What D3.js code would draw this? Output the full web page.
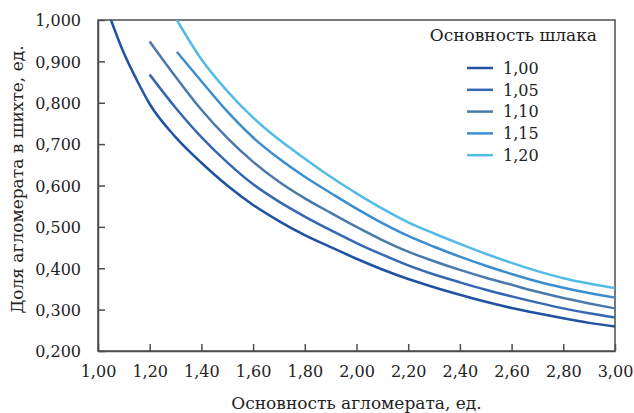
<!DOCTYPE html>
<html>
<head>
<meta charset="utf-8">
<script src="https://cdn.jsdelivr.net/npm/d3@7"></script>
<style>
  body { margin: 0; background: #fff; }
  text { font-family: "DejaVu Serif", serif; fill: #222; }
</style>
</head>
<body>
<div id="chart"></div>
<script>
var width = 634;
var height = 413;
var margin = { top: 20, right: 19, bottom: 62, left: 98 };

// slag basicity series
var seriesNames = ['1,00', '1,05', '1,10', '1,15', '1,20'];
var seriesColors = ['#1f52a1', '#3568b3', '#4a7aab', '#3b8dcf', '#52bbe8'];

// sinter basicity (x) and sinter share in the charge (y)
var x100 = [1.05, 1.10, 1.15, 1.20, 1.30, 1.40, 1.50, 1.60, 1.70, 1.80, 1.90, 2.00, 2.10, 2.20, 2.30, 2.40, 2.50, 2.60, 2.70, 2.80, 2.90, 3.00];
var y100 = [1.000, 0.920, 0.855, 0.797, 0.717, 0.655, 0.600, 0.553, 0.514, 0.480, 0.451, 0.423, 0.397, 0.374, 0.354, 0.336, 0.319, 0.304, 0.291, 0.279, 0.268, 0.259];

var x105 = [1.20, 1.30, 1.40, 1.50, 1.60, 1.70, 1.80, 1.90, 2.00, 2.10, 2.20, 2.30, 2.40, 2.50, 2.60, 2.70, 2.80, 2.90, 3.00];
var y105 = [0.868, 0.788, 0.717, 0.656, 0.603, 0.561, 0.525, 0.492, 0.461, 0.433, 0.407, 0.385, 0.366, 0.348, 0.332, 0.317, 0.303, 0.291, 0.281];

var x110 = [1.20, 1.30, 1.40, 1.50, 1.60, 1.70, 1.80, 1.90, 2.00, 2.10, 2.20, 2.30, 2.40, 2.50, 2.60, 2.70, 2.80, 2.90, 3.00];
var y110 = [0.948, 0.863, 0.783, 0.715, 0.657, 0.609, 0.569, 0.534, 0.500, 0.468, 0.440, 0.417, 0.396, 0.377, 0.360, 0.343, 0.328, 0.315, 0.303];

var x115 = [1.305, 1.40, 1.50, 1.60, 1.70, 1.80, 1.90, 2.00, 2.10, 2.20, 2.30, 2.40, 2.50, 2.60, 2.70, 2.80, 2.90, 3.00];
var y115 = [0.923, 0.852, 0.779, 0.716, 0.665, 0.621, 0.582, 0.544, 0.509, 0.478, 0.452, 0.428, 0.406, 0.386, 0.368, 0.353, 0.340, 0.329];

var x120 = [1.305, 1.40, 1.50, 1.60, 1.70, 1.80, 1.90, 2.00, 2.10, 2.20, 2.30, 2.40, 2.50, 2.60, 2.70, 2.80, 2.90, 3.00];
var y120 = [1.000, 0.905, 0.828, 0.764, 0.711, 0.665, 0.621, 0.581, 0.544, 0.511, 0.484, 0.459, 0.435, 0.413, 0.393, 0.376, 0.363, 0.352];

var xTicks = [1.0, 1.2, 1.4, 1.6, 1.8, 2.0, 2.2, 2.4, 2.6, 2.8, 3.0];
var yTicks = [0.2, 0.3, 0.4, 0.5, 0.6, 0.7, 0.8, 0.9, 1.0];

var xTitle = 'Основность агломерата, ед.';
var yTitle = 'Доля агломерата в шихте, ед.';
var legendTitle = 'Основность шлака';

var seriesX = [x100, x105, x110, x115, x120];
var seriesY = [y100, y105, y110, y115, y120];

var series = seriesNames.map(function(name, i) {
    return {
        name: name,
        color: seriesColors[i],
        points: seriesX[i].map(function(v, j) { return [v, seriesY[i][j]]; })
    };
});

var commaFormat = function(digits) {
    return function(d) { return d3.format('.' + digits + 'f')(d).replace('.', ','); };
};

var svg = d3.select('#chart')
    .append('svg')
    .attr('width', width)
    .attr('height', height);

var innerW = width - margin.left - margin.right;
var innerH = height - margin.top - margin.bottom;

var x = d3.scaleLinear().domain([1, 3]).range([margin.left, margin.left + innerW]);
var y = d3.scaleLinear().domain([0.2, 1.0]).range([margin.top + innerH, margin.top]);

// frame
svg.append('rect')
    .attr('x', margin.left)
    .attr('y', margin.top)
    .attr('width', innerW)
    .attr('height', innerH)
    .attr('fill', 'none')
    .attr('stroke', '#4d4d4d')
    .attr('stroke-width', 1.5);

// axes with inward ticks
var xAxis = svg.append('g')
    .attr('transform', 'translate(0,' + (margin.top + innerH) + ')')
    .call(d3.axisBottom(x).tickValues(xTicks).tickFormat(commaFormat(2)).tickSizeInner(-7).tickSizeOuter(0).tickPadding(15));

var yAxis = svg.append('g')
    .attr('transform', 'translate(' + margin.left + ',0)')
    .call(d3.axisLeft(y).tickValues(yTicks).tickFormat(commaFormat(3)).tickSizeInner(-7).tickSizeOuter(0).tickPadding(17));

[xAxis, yAxis].forEach(function(ax) {
    ax.select('.domain').attr('stroke', '#4d4d4d').attr('stroke-width', 1.5);
    ax.selectAll('.tick line').attr('stroke', '#4d4d4d').attr('stroke-width', 1.5);
    ax.selectAll('.tick text')
        .attr('font-family', '"DejaVu Serif", serif')
        .attr('font-size', 16)
        .attr('fill', '#222');
});
yAxis.selectAll('.tick text').attr('dy', '0.36em');

// curves
var line = d3.line()
    .x(function(d) { return x(d[0]); })
    .y(function(d) { return y(d[1]); })
    .curve(d3.curveMonotoneX);

svg.append('g')
    .selectAll('path')
    .data(series)
    .enter()
    .append('path')
    .attr('d', function(d) { return line(d.points); })
    .attr('fill', 'none')
    .attr('stroke', function(d) { return d.color; })
    .attr('stroke-width', 2.5);

// axis titles
svg.append('text')
    .attr('x', margin.left + innerW / 2)
    .attr('y', 409)
    .attr('text-anchor', 'middle')
    .attr('font-size', 17)
    .text(xTitle);

svg.append('text')
    .attr('transform', 'translate(23,' + (margin.top + innerH / 2 - 6) + ') rotate(-90)')
    .attr('text-anchor', 'middle')
    .attr('font-size', 17)
    .text(yTitle);

// legend
var legend = svg.append('g')
    .attr('transform', 'translate(467,0)');

legend.append('text')
    .attr('x', 130)
    .attr('y', 41)
    .attr('text-anchor', 'end')
    .attr('font-size', 17)
    .text(legendTitle);

var rows = legend.selectAll('.row')
    .data(series)
    .enter()
    .append('g')
    .attr('class', 'row')
    .attr('transform', function(d, i) { return 'translate(0,' + (68 + i * 21.8) + ')'; });

rows.append('line')
    .attr('x1', 0)
    .attr('x2', 26)
    .attr('stroke', function(d) { return d.color; })
    .attr('stroke-width', 2.5);

rows.append('text')
    .attr('x', 36)
    .attr('dy', '0.36em')
    .attr('font-size', 16)
    .text(function(d) { return d.name; });
</script>
</body>
</html>
